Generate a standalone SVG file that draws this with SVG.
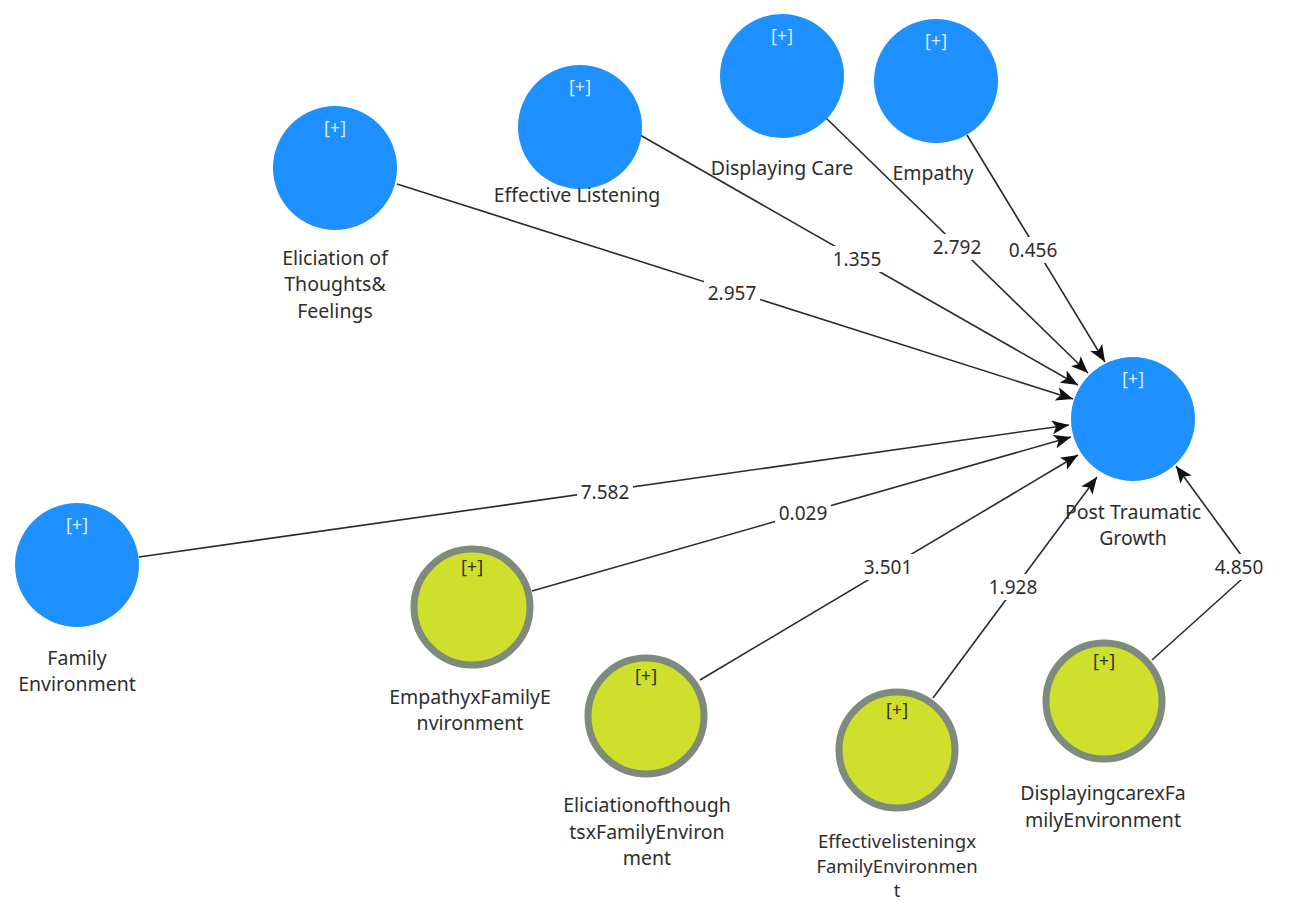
<svg xmlns="http://www.w3.org/2000/svg" width="1294" height="903" viewBox="0 0 1294 903">
<style>
.lv{fill:#1E90FF}
.ia{fill:#CEDF2C;stroke:#7E8A7B;stroke-width:7}
.pl{font-family:"Noto Sans","Open Sans",sans-serif;font-size:18px;text-anchor:middle}
.plb{fill:#D6ECFF}
.plg{fill:#333}
.lab{font-family:"Noto Sans","Open Sans",sans-serif;font-size:19.5px;fill:#2e2e2e;text-anchor:middle}
.sm{font-size:18.5px}
.num{font-family:"Noto Sans","Open Sans",sans-serif;font-size:19px;fill:#2e2e2e;text-anchor:middle}
.c{stroke:#2b2b2b;stroke-width:1.6;fill:none;marker-end:url(#ah)}
.bg{fill:#fff}
</style>
<defs>
<marker id="ah" markerUnits="userSpaceOnUse" markerWidth="18" markerHeight="14" viewBox="0 0 18 14" refX="17" refY="7" orient="auto">
<path d="M0,0 L17,7 L0,14 L4,7 Z" fill="#111"/>
</marker>
</defs>
<rect width="1294" height="903" fill="#fff"/>
<g id="connectors">
<line class="c" x1="397" y1="184" x2="1073" y2="399"/>
<line class="c" x1="640" y1="135" x2="1078" y2="385"/>
<line class="c" x1="825" y1="117" x2="1088" y2="373"/>
<line class="c" x1="967" y1="135" x2="1105" y2="362"/>
<line class="c" x1="139" y1="557" x2="1069" y2="425"/>
<line class="c" x1="532" y1="591" x2="1071" y2="437"/>
<line class="c" x1="700" y1="680" x2="1078" y2="455"/>
<line class="c" x1="933" y1="698" x2="1097" y2="477"/>
<polyline class="c" points="1152,660 1252,570 1176,466"/>
<g id="coefs">
<rect class="bg" x="704" y="280" width="56" height="26"/><text class="num" x="732" y="300">2.957</text>
<rect class="bg" x="829" y="246" width="56" height="26"/><text class="num" x="857" y="266">1.355</text>
<rect class="bg" x="929" y="234" width="56" height="26"/><text class="num" x="957" y="254">2.792</text>
<rect class="bg" x="1005" y="237" width="56" height="26"/><text class="num" x="1033" y="257">0.456</text>
<rect class="bg" x="577" y="479" width="56" height="26"/><text class="num" x="605" y="499">7.582</text>
<rect class="bg" x="775" y="500" width="56" height="26"/><text class="num" x="803" y="520">0.029</text>
<rect class="bg" x="860" y="554" width="56" height="26"/><text class="num" x="888" y="574">3.501</text>
<rect class="bg" x="985" y="574" width="56" height="26"/><text class="num" x="1013" y="594">1.928</text>
<rect class="bg" x="1210" y="554" width="58" height="26"/><text class="num" x="1239" y="574">4.850</text>
</g>
</g>
<g id="elic">
<circle class="lv" cx="335" cy="168" r="62"/>
<text class="pl plb" x="335" y="134">[+]</text>
<text class="lab" x="335" y="265">Eliciation of</text>
<text class="lab" x="335" y="291">Thoughts&amp;</text>
<text class="lab" x="335" y="318">Feelings</text>
</g>
<g id="efl">
<circle class="lv" cx="580" cy="127" r="62"/>
<text class="pl plb" x="580" y="93">[+]</text>
<text class="lab" x="577" y="202">Effective Listening</text>
</g>
<g id="dc">
<circle class="lv" cx="782" cy="76" r="62"/>
<text class="pl plb" x="782" y="42">[+]</text>
<text class="lab" x="782" y="175">Displaying Care</text>
</g>
<g id="emp">
<circle class="lv" cx="936" cy="81" r="62"/>
<text class="pl plb" x="936" y="47">[+]</text>
<text class="lab" x="933" y="180">Empathy</text>
</g>
<g id="ptg">
<circle class="lv" cx="1133" cy="419" r="62"/>
<text class="pl plb" x="1133" y="385">[+]</text>
<text class="lab" x="1133" y="519">Post Traumatic</text>
<text class="lab" x="1133" y="545">Growth</text>
</g>
<g id="fe">
<circle class="lv" cx="77" cy="565" r="62"/>
<text class="pl plb" x="77" y="531">[+]</text>
<text class="lab" x="77" y="665">Family</text>
<text class="lab" x="77" y="691">Environment</text>
</g>
<g id="empx">
<circle class="ia" cx="472" cy="607" r="58"/>
<text class="pl plg" x="472" y="573">[+]</text>
<text class="lab" x="470" y="704">EmpathyxFamilyE</text>
<text class="lab" x="470" y="730">nvironment</text>
</g>
<g id="elicx">
<circle class="ia" cx="646" cy="716" r="58"/>
<text class="pl plg" x="646" y="682">[+]</text>
<text class="lab" x="647" y="812">Eliciationofthough</text>
<text class="lab" x="647" y="839">tsxFamilyEnviron</text>
<text class="lab" x="647" y="865">ment</text>
</g>
<g id="eflx">
<circle class="ia" cx="897" cy="750" r="58"/>
<text class="pl plg" x="897" y="716">[+]</text>
<text class="lab sm" x="897" y="848">Effectivelisteningx</text>
<text class="lab sm" x="897" y="873">FamilyEnvironmen</text>
<text class="lab sm" x="897" y="897">t</text>
</g>
<g id="dcx">
<circle class="ia" cx="1104" cy="701" r="58"/>
<text class="pl plg" x="1104" y="667">[+]</text>
<text class="lab" x="1103" y="800">DisplayingcarexFa</text>
<text class="lab" x="1103" y="827">milyEnvironment</text>
</g>
</svg>
